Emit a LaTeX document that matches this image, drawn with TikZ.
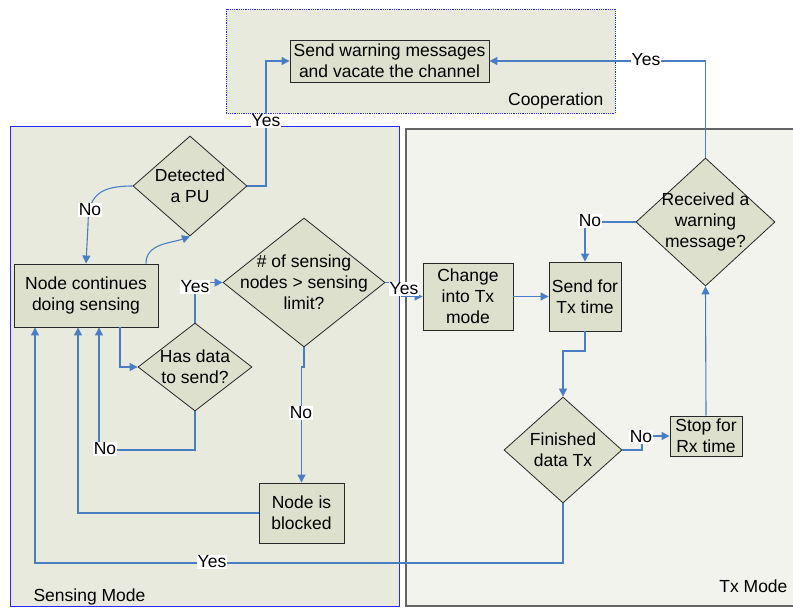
\documentclass[tikz,border=0pt]{standalone}
\usepackage{fontspec}
\setmainfont{Liberation Sans}
\usetikzlibrary{shapes.geometric,arrows.meta,calc}
\definecolor{nodefill}{RGB}{221,224,204}
\definecolor{sensfill}{RGB}{233,234,222}
\definecolor{txfill}{RGB}{242,243,236}
\definecolor{coopfill}{RGB}{233,234,222}
\definecolor{conn}{RGB}{74,126,196}
\definecolor{sensborder}{RGB}{40,40,250}
\definecolor{txborder}{RGB}{100,100,100}
\definecolor{nodeborder}{RGB}{40,40,40}
\begin{document}
\begin{tikzpicture}[x=1pt,y=-1pt,
  font=\fontsize{17.5}{21}\selectfont,
  boxnode/.style={draw=nodeborder,fill=nodefill,line width=0.9pt,inner sep=0pt,align=center,anchor=center},
  dnode/.style={diamond,draw=nodeborder,fill=nodefill,line width=0.8pt,inner sep=0pt},
  dtext/.style={align=center,font=\fontsize{17.5}{21}\selectfont},
  lbl/.style={fill=white,inner sep=1pt},
  arr/.style={draw=conn,line width=1.1pt,-{Triangle[length=8pt,width=8pt]}},
  plain/.style={draw=conn,line width=1.1pt}]
\useasboundingbox (0,0) rectangle (793,608);
% regions
\path[fill=coopfill,draw=sensborder,densely dotted,line width=0.8pt] (226,9) rectangle (615,113);
\path[fill=sensfill,draw=sensborder,line width=1pt] (10,126) rectangle (399,606.5);
\path[fill=txfill,draw=txborder,line width=1.2pt] (406,129) rectangle (795,606);
\node[anchor=base east] (coopl) at (607,105) {Cooperation};
\node[anchor=base west] (sensl) at (30,601) {Sensing Mode};
\node[anchor=base east] (txl) at (791,592) {Tx Mode};
% nodes
\node[boxnode,minimum width=199pt,minimum height=42pt] (warn) at (389.5,61) {Send warning messages\\and vacate the channel};
\node[boxnode,minimum width=144pt,minimum height=63pt] (cont) at (86,295.5) {Node continues\\doing sensing};
\node[boxnode,minimum width=85pt,minimum height=60pt] (blocked) at (301.5,513) {Node is\\blocked};
\node[boxnode,minimum width=90pt,minimum height=67pt] (change) at (468,296.5) {Change\\into Tx\\mode};
\node[boxnode,minimum width=72pt,minimum height=69pt] (send) at (585,296.5) {Send for\\Tx time};
\node[boxnode,minimum width=72pt,minimum height=40pt] (stop) at (706,436) {Stop for\\Rx time};
\node[dnode,minimum width=114pt,minimum height=100pt,label={[dtext]center:Detected\\a PU}] (det) at (190,186) {};
\node[dnode,minimum width=162pt,minimum height=129pt,label={[dtext]center:\# of sensing\\nodes > sensing\\limit?}] (hash) at (304,282.5) {};
\node[dnode,minimum width=114pt,minimum height=88pt,label={[dtext]center:Has data\\to send?}] (has) at (195,367) {};
\node[dnode,minimum width=139pt,minimum height=128pt,label={[dtext]center:Received a\\warning\\message?}] (rec) at (705.5,222) {};
\node[dnode,minimum width=118pt,minimum height=106pt,label={[dtext]center:Finished\\data Tx}] (fin) at (563,450) {};
% connectors
\coordinate (c1) at (266,186);
\draw[arr] (det.east) -- (c1) |- (warn.west);
\node[lbl] (y1) at (266,121) {Yes};
\coordinate (c2) at (88,225);
\draw[arr] (det.west) .. controls (100,186) and (88,195) .. (c2) -- (cont.north);
\node[lbl] (n1) at (90,210) {No};
\coordinate (c3) at ($(cont.north)+(60,0)$);
\draw[arr] (c3) to[out=90,in=200] (det.south);
\coordinate (c4) at ($(cont.south)+(34,0)$);
\draw[arr] (c4) |- (has.west);
\draw[arr] (has.north) |- (hash.west);
\node[lbl] (y2) at (195,287) {Yes};
\coordinate (c5) at (195,450);
\coordinate (c6) at ($(cont.south)+(13,0)$);
\draw[arr] (has.south) -- (c5) -| (c6);
\node[lbl] (n2) at (105,449) {No};
\coordinate (c7) at (304,367);
\draw[arr] (hash.south) -- (c7) -| (blocked.north);
\node[lbl] (n3) at (301,413) {No};
\coordinate (c8) at ($(cont.south)+(-8,0)$);
\draw[arr] (blocked.west) -| (c8);
\coordinate (c9) at (402,282.5);
\draw[arr] (hash.east) -- (c9) |- (change.west);
\node[lbl] (y3) at (404,289) {Yes};
\draw[arr] (change.east) -- (send.west);
\coordinate (c10) at (585,351);
\draw[arr] (send.south) -- (c10) -| (fin.north);
\coordinate (c11) at (642,450);
\draw[arr] (fin.east) -- (c11) |- (stop.west);
\node[lbl] (n4) at (641,437) {No};
\draw[arr] (stop.north) -- (rec.south);
\draw[arr] (rec.west) -| (send.north);
\node[lbl] (n5) at (590,221) {No};
\draw[arr] (rec.north) |- (warn.east);
\node[lbl] (y4) at (646,60) {Yes};
\coordinate (c12) at (563,563);
\coordinate (c13) at ($(cont.south)+(-51,0)$);
\draw[arr] (fin.south) -- (c12) -| (c13);
\node[lbl] (y5) at (212,562) {Yes};
\end{tikzpicture}
\end{document}
